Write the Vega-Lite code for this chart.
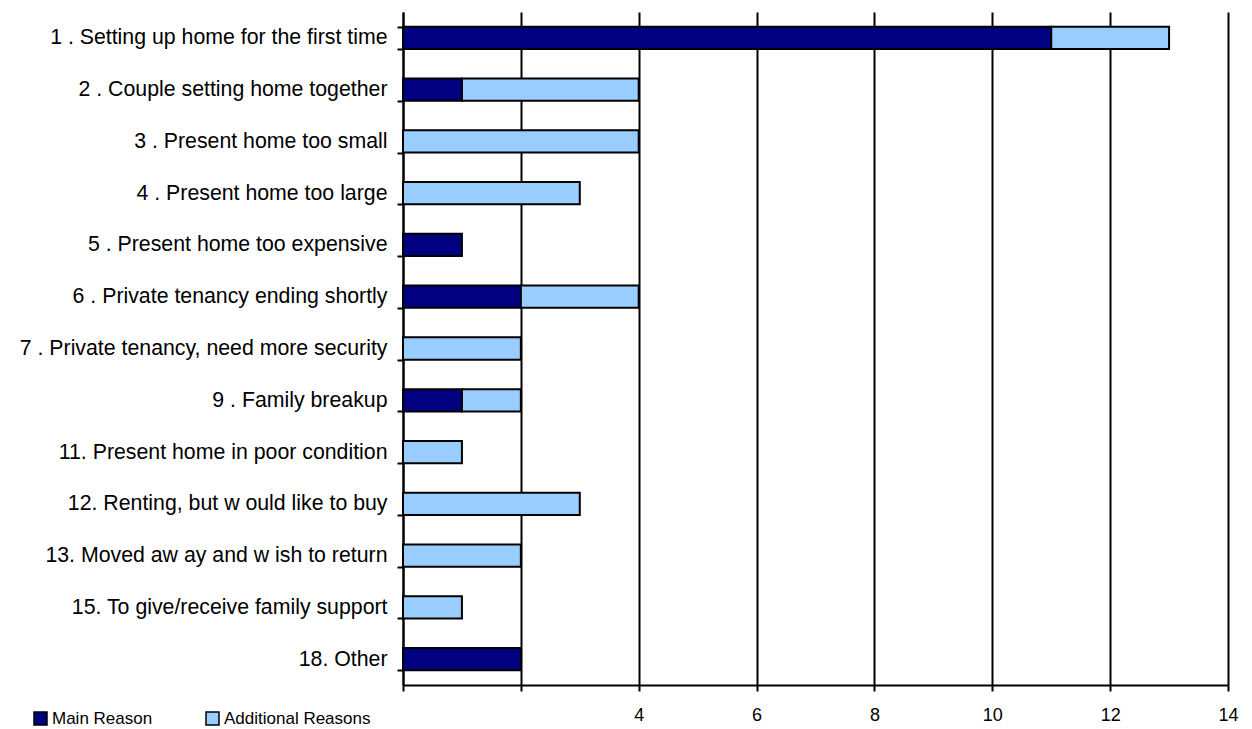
{
  "$schema": "https://vega.github.io/schema/vega-lite/v6.json",
  "autosize": "none",
  "width": 825,
  "height": 673,
  "padding": {"left": 403, "top": 12, "right": 24, "bottom": 44},
  "background": "white",
  "data": {
    "values": [
      {"reason": "1 . Setting up home for the first time", "type": "Main Reason", "ord": 1, "count": 11},
      {"reason": "1 . Setting up home for the first time", "type": "Additional Reasons", "ord": 2, "count": 2},
      {"reason": "2 . Couple setting home together", "type": "Main Reason", "ord": 1, "count": 1},
      {"reason": "2 . Couple setting home together", "type": "Additional Reasons", "ord": 2, "count": 3},
      {"reason": "3 . Present home too small", "type": "Additional Reasons", "ord": 2, "count": 4},
      {"reason": "4 . Present home too large", "type": "Additional Reasons", "ord": 2, "count": 3},
      {"reason": "5 . Present home too expensive", "type": "Main Reason", "ord": 1, "count": 1},
      {"reason": "6 . Private tenancy ending shortly", "type": "Main Reason", "ord": 1, "count": 2},
      {"reason": "6 . Private tenancy ending shortly", "type": "Additional Reasons", "ord": 2, "count": 2},
      {"reason": "7 . Private tenancy, need more security", "type": "Additional Reasons", "ord": 2, "count": 2},
      {"reason": "9 . Family breakup", "type": "Main Reason", "ord": 1, "count": 1},
      {"reason": "9 . Family breakup", "type": "Additional Reasons", "ord": 2, "count": 1},
      {"reason": "11. Present home in poor condition", "type": "Additional Reasons", "ord": 2, "count": 1},
      {"reason": "12. Renting, but w ould like to buy", "type": "Additional Reasons", "ord": 2, "count": 3},
      {"reason": "13. Moved aw ay and w ish to return", "type": "Additional Reasons", "ord": 2, "count": 2},
      {"reason": "15. To give/receive family support", "type": "Additional Reasons", "ord": 2, "count": 1},
      {"reason": "18. Other", "type": "Main Reason", "ord": 1, "count": 2}
    ]
  },
  "mark": {"type": "bar", "stroke": "black", "strokeWidth": 2},
  "encoding": {
    "y": {
      "field": "reason",
      "type": "nominal",
      "sort": null,
      "title": null,
      "scale": {"paddingInner": 0.57, "paddingOuter": 0.285},
      "axis": {
        "tickBand": "extent",
        "domainColor": "black",
        "domainWidth": 2,
        "tickColor": "black",
        "tickWidth": 2,
        "tickSize": 6,
        "labelFont": "Liberation Sans",
        "labelFontSize": 21.3,
        "labelColor": "black",
        "labelPadding": 10,
        "labelLimit": 500,
        "grid": false
      }
    },
    "x": {
      "field": "count",
      "type": "quantitative",
      "stack": "zero",
      "title": null,
      "scale": {"domain": [0, 14], "nice": false},
      "axis": {
        "values": [0, 2, 4, 6, 8, 10, 12, 14],
        "labelExpr": "datum.value < 3 ? '' : datum.label",
        "labelFlush": false,
        "grid": true,
        "gridColor": "black",
        "gridWidth": 2,
        "gridOpacity": 1,
        "domainColor": "black",
        "domainWidth": 2,
        "tickColor": "black",
        "tickWidth": 2,
        "tickSize": 6,
        "labelFont": "Liberation Sans",
        "labelFontSize": 18,
        "labelColor": "black",
        "labelPadding": 15
      }
    },
    "color": {
      "field": "type",
      "type": "nominal",
      "scale": {"domain": ["Main Reason", "Additional Reasons"], "range": ["#000080", "#99CCFF"]},
      "legend": {
        "title": null,
        "orient": "none",
        "direction": "horizontal",
        "legendX": -371,
        "legendY": 698,
        "symbolType": "square",
        "symbolSize": 169,
        "symbolStrokeColor": "black",
        "symbolStrokeWidth": 1.5,
        "labelFont": "Liberation Sans",
        "labelFontSize": 17,
        "labelColor": "black",
        "labelOffset": 3,
        "columnPadding": 50,
        "padding": 0
      }
    },
    "order": {"field": "ord", "type": "quantitative"}
  },
  "config": {"view": {"stroke": null}}
}
